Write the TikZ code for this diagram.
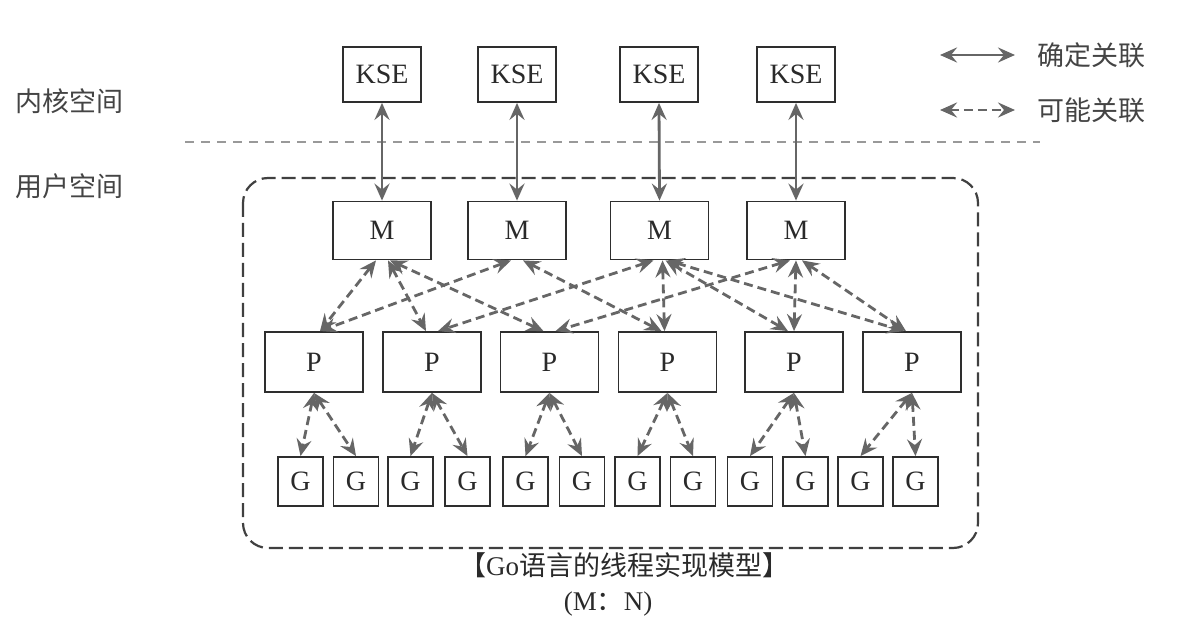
\documentclass[tikz,border=0pt]{standalone}
\usepackage{fontspec}
\setmainfont{Liberation Serif}
\newfontfamily\cjk{Noto Sans CJK SC}
\usetikzlibrary{arrows.meta}
\definecolor{arrowgray}{HTML}{666666}
\definecolor{boxline}{HTML}{2E2E2E}
\definecolor{txt}{HTML}{2A2A2A}
\definecolor{cjktxt}{HTML}{444444}
\tikzset{
  box/.style={draw=boxline, line width=1.8pt, inner sep=0pt, text=txt,
    font=\fontsize{28}{32}\selectfont},
  ksebox/.style={box, minimum width=78pt, minimum height=55pt},
  mbox/.style={box, minimum width=98pt, minimum height=58pt},
  pbox/.style={box, minimum width=98pt, minimum height=60pt},
  gbox/.style={box, minimum width=45pt, minimum height=49pt},
  sure/.style={draw=arrowgray, line width=2.8pt,
    {Stealth[length=17pt,width=15pt,inset=6pt]}-{Stealth[length=17pt,width=15pt,inset=6pt]}},
  maybe/.style={sure, dash pattern=on 9pt off 5pt},
  cjklabel/.style={font=\cjk\fontsize{27}{32}\selectfont, text=cjktxt, inner sep=0pt},
  captionfont/.style={font=\fontsize{27}{32}\selectfont, text=txt, inner sep=0pt}
}
\begin{document}
\begin{tikzpicture}[x=1pt,y=-1pt]
\useasboundingbox[fill=white] (0,0) rectangle (1186,628);

% side labels
\node[cjklabel, anchor=west] (kern) at (15,101) {内核空间};
\node[cjklabel, anchor=west] (user) at (15,186) {用户空间};

% separator
\draw[draw=black!40, line width=1.5pt, dash pattern=on 9pt off 7pt] (185,142) -- (1040,142);

% user space frame
\draw[draw=black!75, line width=2.2pt, dash pattern=on 14pt off 6pt, rounded corners=25pt]
  (243,178) rectangle (978,548);

% KSE
\node[ksebox] (K1) at (382,74.5) {KSE};
\node[ksebox] (K2) at (517,74.5) {KSE};
\node[ksebox] (K3) at (659,74.5) {KSE};
\node[ksebox] (K4) at (796,74.5) {KSE};

% M
\node[mbox] (M1) at (382,230.5) {M};
\node[mbox] (M2) at (517,230.5) {M};
\node[mbox] (M3) at (659.5,230.5) {M};
\node[mbox] (M4) at (796,230.5) {M};

% P
\node[pbox] (P1) at (314,362) {P};
\node[pbox] (P2) at (432,362) {P};
\node[pbox] (P3) at (549.5,362) {P};
\node[pbox] (P4) at (667.5,362) {P};
\node[pbox] (P5) at (794,362) {P};
\node[pbox] (P6) at (912,362) {P};

% G
\foreach \i/\x in {1/300.5,2/356,3/410.5,4/467.5,5/525.5,6/582,7/637.5,8/693,9/750,10/805.5,11/860.5,12/915.5}
  \node[gbox] (G\i) at (\x,481.5) {G};

% KSE - M
\foreach \i in {1,2,3,4}
  \draw[sure] (K\i.south) -- (M\i.north);

% M - P
\draw[maybe] ([xshift=-6pt]M1.south) -- ([xshift=6pt]P1.north);
\draw[maybe] ([xshift=6pt]M1.south) -- ([xshift=-6pt]P2.north);
\draw[maybe] ([xshift=8pt]M1.south) -- ([xshift=-6pt]P3.north);
\draw[maybe] ([xshift=-6pt]M2.south) -- ([xshift=6pt]P1.north);
\draw[maybe] ([xshift=6pt]M2.south) -- ([xshift=-6pt]P4.north);
\draw[maybe] ([xshift=-6pt]M3.south) -- ([xshift=6pt]P2.north);
\draw[maybe] ([xshift=3pt]M3.south) -- ([xshift=-3pt]P4.north);
\draw[maybe] ([xshift=6pt]M3.south) -- ([xshift=-6pt]P5.north);
\draw[maybe] ([xshift=8pt]M3.south) -- ([xshift=-8pt]P6.north);
\draw[maybe] ([xshift=-6pt]M4.south) -- ([xshift=6pt]P3.north);
\draw[maybe] (M4.south) -- (P5.north);
\draw[maybe] ([xshift=6pt]M4.south) -- ([xshift=-6pt]P6.north);

% P - G
\foreach \p/\a/\b in {1/1/2,2/3/4,3/5/6,4/7/8,5/9/10,6/11/12}{
  \draw[maybe] (P\p.south) -- (G\a.north);
  \draw[maybe] (P\p.south) -- (G\b.north);
}

% legend
\coordinate (la1) at (940,55);
\coordinate (lb1) at (1015,55);
\coordinate (la2) at (940,110);
\coordinate (lb2) at (1015,110);
\draw[sure] (la1) -- (lb1);
\draw[maybe] (la2) -- (lb2);
\node[cjklabel, anchor=west] (leg1) at (1037,55) {确定关联};
\node[cjklabel, anchor=west] (leg2) at (1037,110) {可能关联};

% caption
\node[captionfont] (cap1) at (624,565) {{\cjk 【}Go{\cjk 语言的线程实现模型】}};
\node[captionfont] (cap2) at (608,604) {(M{\cjk ：}N)};
\end{tikzpicture}
\end{document}
